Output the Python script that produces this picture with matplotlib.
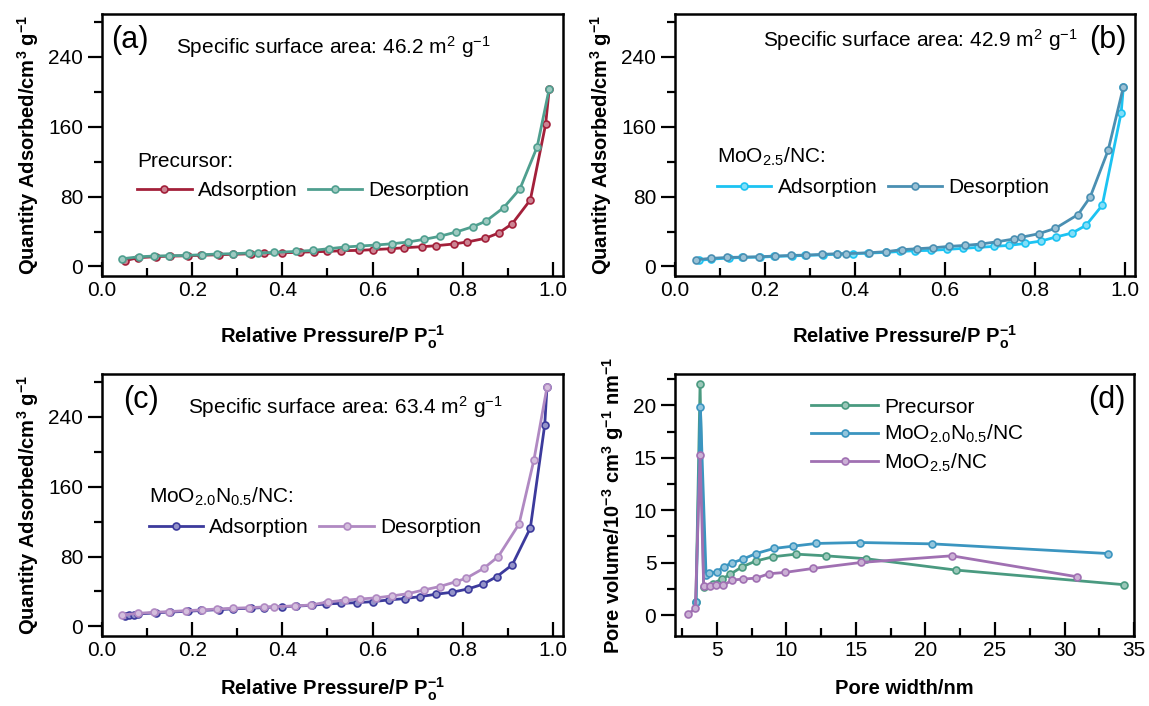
import matplotlib
matplotlib.use("Agg")
import matplotlib.pyplot as plt
from matplotlib.ticker import MultipleLocator
from matplotlib.colors import to_rgb
import numpy as np

plt.rcParams["font.family"] = ["Liberation Sans", "DejaVu Sans"]
plt.rcParams["mathtext.fontset"] = "custom"
plt.rcParams["mathtext.rm"] = "Liberation Sans"
plt.rcParams["mathtext.it"] = "Liberation Sans"
plt.rcParams["mathtext.bf"] = "Liberation Sans:bold"
plt.rcParams["mathtext.default"] = "regular"

# ---- (a) Precursor isotherm
a_ads_p = [0.05, 0.08, 0.12, 0.15, 0.19, 0.22, 0.26, 0.29, 0.33, 0.36, 0.40, 0.44, 0.47,
           0.50, 0.53, 0.57, 0.60, 0.64, 0.67, 0.71, 0.74, 0.78, 0.81, 0.85, 0.88, 0.91,
           0.95, 0.984, 0.992]
a_ads_v = [6.5, 10.0, 11.2, 11.8, 12.2, 12.8, 13.4, 13.9, 14.5, 14.9, 15.6, 16.3, 16.8,
           17.2, 18.0, 18.4, 19.2, 20.3, 21.4, 22.6, 23.7, 25.7, 28.0, 32.2, 38.3, 49.0,
           76.2, 163.0, 203.8]
a_des_p = [0.045, 0.082, 0.116, 0.149, 0.186, 0.221, 0.256, 0.29, 0.325, 0.345, 0.382,
           0.43, 0.467, 0.503, 0.538, 0.573, 0.607, 0.644, 0.679, 0.714, 0.749, 0.786,
           0.823, 0.851, 0.891, 0.927, 0.965, 0.992]
a_des_v = [8.8, 11.1, 11.9, 12.3, 12.6, 13.4, 14.2, 14.6, 15.3, 15.3, 16.1, 17.2, 18.4,
           20.3, 22.2, 23.4, 24.5, 26.0, 28.0, 31.0, 34.5, 39.5, 45.6, 51.7, 67.4, 88.9,
           136.7, 203.8]

# ---- (b) MoO2.5/NC isotherm
b_ads_p = [0.053, 0.08, 0.12, 0.15, 0.19, 0.22, 0.26, 0.29, 0.33, 0.36, 0.395, 0.43, 0.47,
           0.50, 0.534, 0.569, 0.604, 0.64, 0.674, 0.71, 0.743, 0.779, 0.814, 0.847, 0.883,
           0.914, 0.95, 0.992, 0.997]
b_ads_v = [6.9, 8.4, 9.6, 10.3, 10.7, 11.4, 12.1, 12.6, 13.3, 14.0, 14.6, 15.3, 16.1,
           17.2, 18.0, 18.4, 19.5, 20.7, 21.8, 23.0, 24.1, 26.4, 29.1, 33.7, 38.3, 47.1,
           70.1, 176.0, 205.7]
b_des_p = [0.047, 0.079, 0.116, 0.152, 0.187, 0.222, 0.257, 0.291, 0.326, 0.361, 0.38,
           0.432, 0.469, 0.504, 0.539, 0.574, 0.61, 0.645, 0.68, 0.717, 0.753, 0.769,
           0.809, 0.846, 0.896, 0.923, 0.963, 0.997]
b_des_v = [7.7, 9.2, 10.3, 10.7, 11.1, 11.9, 12.6, 13.0, 13.8, 14.6, 14.6, 15.7, 16.9,
           19.2, 20.3, 21.4, 23.0, 24.1, 25.7, 28.3, 31.4, 33.3, 37.5, 43.7, 59.4, 79.3,
           132.9, 205.7]

# ---- (c) MoO2.0N0.5/NC isotherm
c_ads_p = [0.05, 0.06, 0.07, 0.08, 0.12, 0.15, 0.19, 0.22, 0.26, 0.29, 0.33, 0.36, 0.40,
           0.43, 0.465, 0.497, 0.53, 0.566, 0.601, 0.636, 0.671, 0.706, 0.741, 0.777,
           0.812, 0.845, 0.876, 0.91, 0.95, 0.982, 0.987]
c_ads_v = [12.0, 12.8, 13.4, 14.2, 15.5, 16.4, 17.3, 18.2, 19.2, 20.0, 20.8, 21.6, 22.6,
           23.2, 24.1, 25.7, 26.4, 27.2, 28.3, 30.3, 31.8, 34.1, 36.8, 39.1, 42.9, 48.3,
           57.1, 70.5, 112.6, 231.0, 274.0]
c_des_p = [0.045, 0.079, 0.116, 0.149, 0.186, 0.221, 0.255, 0.29, 0.325, 0.36, 0.382,
           0.429, 0.464, 0.501, 0.538, 0.573, 0.607, 0.644, 0.679, 0.714, 0.749, 0.786,
           0.808, 0.847, 0.879, 0.925, 0.958, 0.987]
c_des_v = [13.0, 14.9, 16.1, 16.9, 18.0, 18.8, 19.9, 20.7, 21.4, 22.2, 22.6, 23.4, 24.5,
           28.0, 29.9, 31.4, 32.6, 34.9, 37.5, 41.7, 45.6, 51.3, 55.2, 66.6, 80.0, 117.2,
           190.7, 274.0]

# ---- (d) pore size distribution
pre_w = [3.5, 3.8, 4.06, 4.71, 5.36, 5.98, 6.82, 7.79, 9.03, 10.7, 12.83, 15.76, 22.19, 34.3]
pre_v = [1.2, 22.06, 2.63, 3.0, 3.43, 3.9, 4.6, 5.14, 5.56, 5.81, 5.65, 5.37, 4.29, 2.89]
mon_w = [3.51, 3.82, 4.23, 4.47, 5.0, 5.5, 6.1, 6.87, 7.83, 9.1, 10.47, 12.15, 15.32, 20.5, 33.1]
mon_v = [1.21, 19.9, 3.81, 3.97, 4.13, 4.6, 4.98, 5.33, 5.87, 6.35, 6.57, 6.83, 6.92, 6.79, 5.87]
mo_w = [2.91, 3.46, 3.8, 4.06, 4.52, 4.95, 5.48, 6.1, 6.87, 7.83, 8.75, 9.87, 11.9, 15.4, 21.9, 30.9]
mo_v = [0.06, 0.63, 15.3, 2.76, 2.76, 2.86, 2.83, 3.33, 3.43, 3.52, 3.94, 4.06, 4.44, 5.02, 5.65, 3.65]

FS = 15


def light(c, f=0.45):
    r = np.array(to_rgb(c))
    return tuple(r + (1 - r) * f)


def line(ax, x, y, c, label):
    ax.plot(x, y, "-o", color=c, lw=2, ms=5, mfc=light(c), mec=c, mew=1.2, label=label)


def style(ax):
    for s in ax.spines.values():
        s.set_linewidth(1.8)
    ax.tick_params(axis="x", which="both", direction="in", top=False, labelsize=FS, width=1.6)
    ax.tick_params(axis="y", which="both", direction="out", right=False, labelsize=FS, width=1.6)
    ax.tick_params(which="major", length=10)
    ax.tick_params(which="minor", length=6)


fig = plt.figure(figsize=(11.49, 7.06), dpi=100)
pos = {"a": [0.0888, 0.609, 0.401, 0.371], "b": [0.5875, 0.609, 0.400, 0.371],
       "c": [0.0888, 0.0992, 0.401, 0.371], "d": [0.5875, 0.0992, 0.3995, 0.371]}

# key, ads x/y, des x/y, colours, legend title, surface area, label
iso = [
    ("a", a_ads_p, a_ads_v, a_des_p, a_des_v, "#a3203a", "#4f9f8f", "Precursor:", "46.2", "(a)"),
    ("b", b_ads_p, b_ads_v, b_des_p, b_des_v, "#1cc3f2", "#4a8fb2", "MoO$_{2.5}$/NC:", "42.9", "(b)"),
    ("c", c_ads_p, c_ads_v, c_des_p, c_des_v, "#3c3a9c", "#b089c2", "MoO$_{2.0}$N$_{0.5}$/NC:", "63.4", "(c)"),
]
ssa_xy = {"a": (0.16, 0.875, "left"), "b": (0.876, 0.9, "right"), "c": (0.187, 0.874, "left")}
lab_x = {"a": 0.02, "b": 0.9, "c": 0.045}
leg_xy = {"a": (0.045, 0.53), "b": (0.06, 0.555), "c": (0.07, 0.63)}
xpad = {"a": 17, "b": 17, "c": 11}

for key, ap, av, dp, dv, ca, cd, title, ssa, lab in iso:
    ax = fig.add_axes(pos[key])
    line(ax, ap, av, ca, "Adsorption")
    line(ax, dp, dv, cd, "Desorption")
    ax.set_xlim(0, 1.022)
    ax.set_ylim(-11, 289)
    ax.xaxis.set_major_locator(MultipleLocator(0.2))
    ax.xaxis.set_minor_locator(MultipleLocator(0.1))
    ax.yaxis.set_major_locator(MultipleLocator(80))
    ax.yaxis.set_minor_locator(MultipleLocator(40))
    ax.xaxis.set_major_formatter(plt.FormatStrFormatter("%.1f"))
    style(ax)
    ax.set_xlabel(r"Relative Pressure/P P$\mathbf{_o^{-1}}$", fontsize=FS - 0.5, fontweight="bold",
                  labelpad=xpad[key])
    ax.set_ylabel(r"Quantity Adsorbed/cm$\mathbf{^3}$ g$\mathbf{^{-1}}$", fontsize=FS - 0.5,
                  fontweight="bold", labelpad=5)
    sx, sy, ha = ssa_xy[key]
    ax.text(sx, sy, "Specific surface area: %s m$^2$ g$^{-1}$" % ssa, transform=ax.transAxes,
            fontsize=FS, ha=ha, va="center")
    ax.text(lab_x[key], 0.9, lab, transform=ax.transAxes, fontsize=22, va="center")
    ax.legend(title=title, ncol=2, frameon=False, fontsize=FS, title_fontsize=FS,
              loc="upper left", bbox_to_anchor=leg_xy[key], alignment="left",
              handlelength=2.6, handletextpad=0.3, columnspacing=0.5, borderpad=0.2)

ax = fig.add_axes(pos["d"])
line(ax, pre_w, pre_v, "#4a9a80", "Precursor")
line(ax, mon_w, mon_v, "#3b95c0", "MoO$_{2.0}$N$_{0.5}$/NC")
line(ax, mo_w, mo_v, "#a070b2", "MoO$_{2.5}$/NC")
ax.set_xlim(2, 35)
ax.set_ylim(-2, 23)
ax.xaxis.set_major_locator(MultipleLocator(5))
ax.xaxis.set_minor_locator(MultipleLocator(2.5))
ax.yaxis.set_major_locator(MultipleLocator(5))
ax.yaxis.set_minor_locator(MultipleLocator(2.5))
style(ax)
ax.set_xlabel("Pore width/nm", fontsize=FS - 0.5, fontweight="bold", labelpad=14)
ax.set_ylabel(r"Pore volume/10$\mathbf{^{-3}}$ cm$\mathbf{^3}$ g$\mathbf{^{-1}}$ nm$\mathbf{^{-1}}$",
              fontsize=FS - 0.5, fontweight="bold", labelpad=5)
ax.text(0.9, 0.9, "(d)", transform=ax.transAxes, fontsize=22, va="center")
ax.legend(frameon=False, fontsize=FS, loc="upper left", bbox_to_anchor=(0.265, 0.965),
          handlelength=3.2, handletextpad=0.3, labelspacing=0.3, borderpad=0.2)

fig.savefig("out.png", dpi=100)
